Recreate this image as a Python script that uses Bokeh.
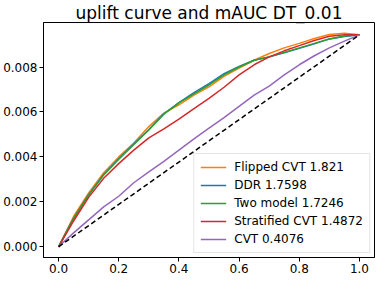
from bokeh.plotting import figure
from bokeh.models import Range1d, FixedTicker, PrintfTickFormatter, Legend, LegendItem
from bokeh.embed import file_html
from bokeh.resources import INLINE

x = [0.0, 0.05, 0.1, 0.15, 0.2, 0.25, 0.3, 0.35, 0.4, 0.45, 0.5,
     0.55, 0.6, 0.65, 0.7, 0.75, 0.8, 0.85, 0.9, 0.95, 1.0]

flipped_cvt = [0.0, 1.35, 2.4, 3.3, 4.0, 4.62, 5.35, 5.95, 6.32, 6.75, 7.12,
               7.58, 7.95, 8.3, 8.6, 8.85, 9.05, 9.27, 9.45, 9.5, 9.43]
ddr = [0.0, 1.28, 2.32, 3.22, 3.92, 4.57, 5.22, 5.92, 6.42, 6.86, 7.26,
       7.7, 8.03, 8.3, 8.45, 8.63, 8.83, 9.03, 9.25, 9.36, 9.43]
two_model = [0.0, 1.25, 2.3, 3.2, 3.9, 4.55, 5.2, 5.9, 6.4, 6.8, 7.2,
             7.65, 8.0, 8.3, 8.45, 8.65, 8.85, 9.05, 9.25, 9.38, 9.43]
stratified_cvt = [0.0, 1.15, 2.2, 3.05, 3.7, 4.3, 4.85, 5.25, 5.68, 6.15, 6.6,
                  7.1, 7.65, 8.1, 8.45, 8.72, 8.95, 9.18, 9.37, 9.43, 9.43]
cvt = [0.0, 0.62, 1.2, 1.78, 2.25, 2.85, 3.33, 3.8, 4.3, 4.8, 5.28,
       5.75, 6.25, 6.75, 7.15, 7.65, 8.1, 8.5, 8.85, 9.15, 9.43]
scale = 1e-3

series_names = ["Flipped CVT 1.821", "DDR 1.7598", "Two model 1.7246",
                "Stratified CVT 1.4872", "CVT 0.4076"]
series_values = [flipped_cvt, ddr, two_model, stratified_cvt, cvt]
colors = ["#ff7f0e", "#1f77b4", "#2ca02c", "#d62728", "#9467bd"]

diag_x = [0.0, 1.0]
diag_y = [0.0, 9.43]

x_ticks = [0.0, 0.2, 0.4, 0.6, 0.8, 1.0]
y_ticks = [0.0, 0.002, 0.004, 0.006, 0.008]
title_text = "uplift curve and mAUC DT_0.01"

p = figure(width=375, height=275, output_backend="svg", toolbar_location=None,
           x_range=Range1d(-0.05, 1.05), y_range=Range1d(-0.000475, 0.00998),
           min_border_left=38, min_border_right=1, min_border_bottom=0, min_border_top=16,
           title=title_text)
p.title.align = "center"
p.title.text_font = "DejaVu Sans"
p.title.text_font_size = "17px"
p.title.text_font_style = "normal"
p.title.text_color = "black"
p.title.text_line_height = 0.9
p.title.standoff = 0
p.title.offset = 0

p.grid.visible = False
p.outline_line_color = "black"
p.outline_line_width = 1
p.background_fill_color = "white"
p.border_fill_color = "white"

for ax in (p.xaxis, p.yaxis):
    ax.major_label_text_font = "DejaVu Sans"
    ax.major_label_text_font_size = "12px"
    ax.major_label_text_color = "black"
    ax.axis_line_color = "black"
    ax.major_tick_line_color = "black"
    ax.major_tick_out = 4
    ax.major_tick_in = 0
    ax.minor_tick_out = 0
    ax.minor_tick_in = 0
    ax.major_label_standoff = 2

p.xaxis.ticker = FixedTicker(ticks=x_ticks)
p.xaxis.formatter = PrintfTickFormatter(format="%.1f")
p.yaxis.ticker = FixedTicker(ticks=y_ticks)
p.yaxis.formatter = PrintfTickFormatter(format="%.3f")

items = []
for name, vals, c in zip(series_names, series_values, colors):
    r = p.line(x, [v * scale for v in vals], line_color=c, line_width=1.5)
    items.append(LegendItem(label=name, renderers=[r]))

p.line(diag_x, [v * scale for v in diag_y], line_color="black", line_width=1.5,
       line_dash="5 3")

legend = Legend(items=items, location="bottom_right")
legend.label_text_font = "DejaVu Sans"
legend.label_text_font_size = "12px"
legend.label_text_color = "black"
legend.label_height = 14
legend.glyph_height = 14
legend.glyph_width = 26
legend.spacing = 4
legend.padding = 6
legend.margin = 4
legend.label_standoff = 8
legend.border_line_color = "#cccccc"
legend.background_fill_alpha = 0.9
p.add_layout(legend)

open("out.html", "w").write(file_html(p, INLINE))
